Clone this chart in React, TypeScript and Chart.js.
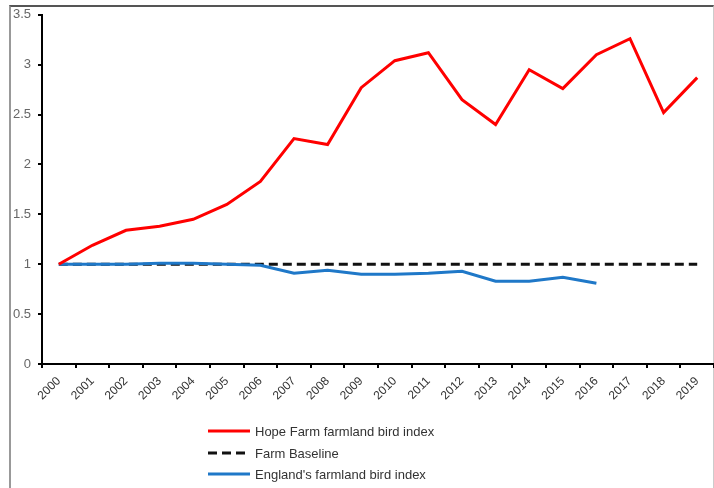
import React, { useEffect, useRef } from "react";
import { Chart, registerables } from "chart.js";

Chart.register(...registerables);

const years = ["2000","2001","2002","2003","2004","2005","2006","2007","2008","2009","2010","2011","2012","2013","2014","2015","2016","2017","2018","2019"];
const hopeFarm = [1.0,1.19,1.34,1.38,1.45,1.60,1.83,2.26,2.20,2.77,3.04,3.12,2.65,2.40,2.95,2.76,3.10,3.26,2.52,2.87];
const baseline = [1,1,1,1,1,1,1,1,1,1,1,1,1,1,1,1,1,1,1,1];
const england = [1.0,1.0,1.0,1.01,1.01,1.0,0.99,0.91,0.94,0.90,0.90,0.91,0.93,0.83,0.83,0.87,0.81,null,null,null];
const seriesLabels = ["Hope Farm farmland bird index","Farm Baseline","England's farmland bird index"];
const seriesColors = ["#ff0000","#111111","#1f78c8"];
const yTicks = [0,0.5,1,1.5,2,2.5,3,3.5];

export default function App() {
  const ref = useRef<HTMLCanvasElement>(null);
  useEffect(() => {
    if (!ref.current) return;
    const chart = new Chart(ref.current, {
      type: "line",
      data: {
        labels: years,
        datasets: [
          { label: seriesLabels[0], data: hopeFarm, borderColor: seriesColors[0], borderWidth: 3, pointRadius: 0, tension: 0, order: 0 },
          { label: seriesLabels[1], data: baseline, borderColor: seriesColors[1], borderWidth: 3, borderDash: [9, 5], pointRadius: 0, tension: 0, order: 3 },
          { label: seriesLabels[2], data: england, borderColor: seriesColors[2], borderWidth: 3, pointRadius: 0, tension: 0, order: 1 },
        ],
      },
      options: {
        animation: false,
        responsive: false,
        devicePixelRatio: 1,
        layout: { padding: { top: 14, right: 0, left: 0, bottom: 0 } },
        plugins: { legend: { display: false }, tooltip: { enabled: false } },
        scales: {
          x: {
            type: "category",
            offset: true,
            grid: { offset: true, drawOnChartArea: false, drawTicks: true, tickLength: 4, color: "#000", lineWidth: 2 },
            border: { color: "#000", width: 2 },
            ticks: { maxRotation: 45, minRotation: 45, color: "#333", padding: 6, font: { family: "Liberation Sans", size: 12 }, autoSkip: false },
            afterFit: (s: any) => { s.height = 488 - 364; },
          },
          y: {
            min: 0,
            max: 3.5,
            afterBuildTicks: (s: any) => { s.ticks = yTicks.map((v) => ({ value: v })); },
            grid: { drawOnChartArea: false, drawTicks: true, tickLength: 4, color: "#000", lineWidth: 2 },
            border: { color: "#000", width: 2 },
            ticks: { color: "#666", padding: 7, font: { family: "Liberation Sans", size: 13 }, callback: (v: any) => String(v) },
            afterFit: (s: any) => { s.width = 42; },
          },
        },
      },
    });
    return () => chart.destroy();
  }, []);

  const rowsY = [431, 453, 474];
  return (
    <div style={{ position: "absolute", left: 0, top: 0, width: 714, height: 488, background: "#fff", overflow: "hidden" }}>
      <div style={{ position: "absolute", left: 9, top: 5, width: 705, height: 490, borderTop: "2px solid #555", borderLeft: "2px solid #999", borderRight: "1px solid #ccc", boxSizing: "border-box" }} />
      <canvas ref={ref} width={714} height={488} style={{ position: "absolute", left: 0, top: 0, width: 714, height: 488 }} />
      {seriesLabels.map((lab, i) => (
        <div key={lab} style={{ position: "absolute", left: 207, top: rowsY[i] - 9, height: 18, display: "flex", alignItems: "center", fontFamily: "Liberation Sans", fontSize: 13, color: "#333", whiteSpace: "nowrap" }}>
          <svg width={44} height={6} style={{ marginRight: 4 }}>
            <line x1={1} y1={3} x2={43} y2={3} stroke={seriesColors[i]} strokeWidth={3} strokeDasharray={i === 1 ? "9 5" : undefined} />
          </svg>
          <span>{lab}</span>
        </div>
      ))}
    </div>
  );
}
